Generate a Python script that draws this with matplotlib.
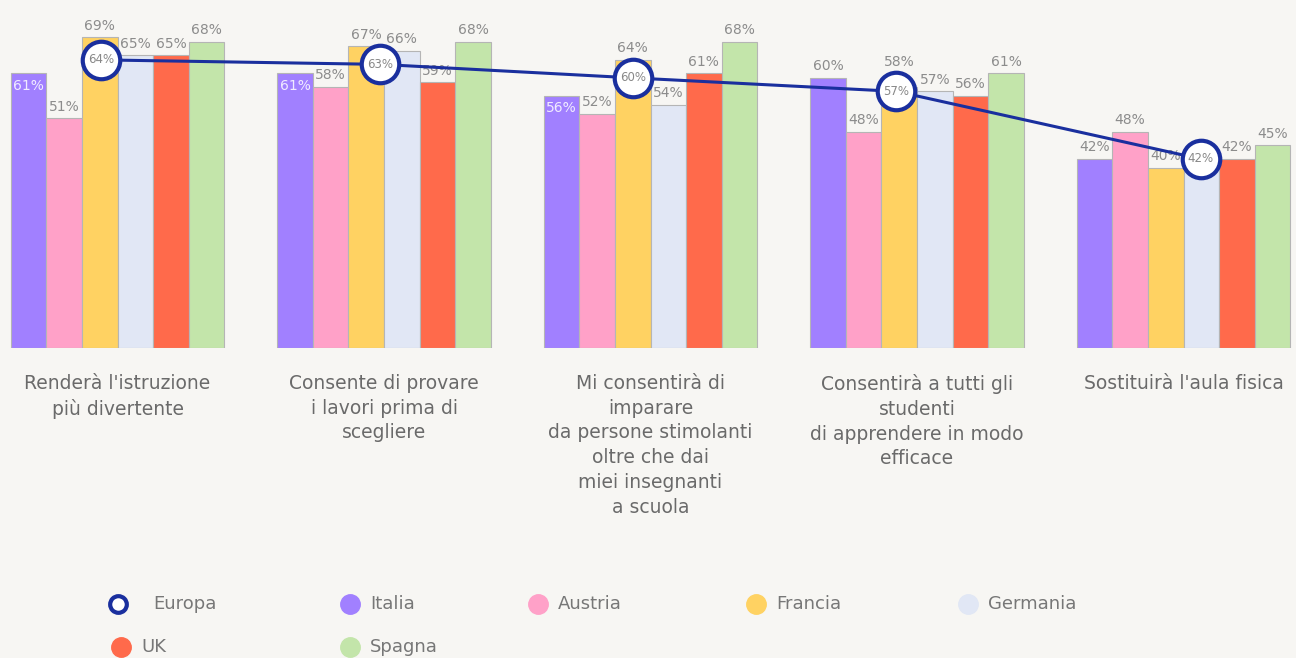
import matplotlib
matplotlib.use('agg')
import matplotlib.pyplot as plt
from matplotlib.lines import Line2D
import numpy as np

plt.rcParams['font.family'] = ['DejaVu Sans']

categories = ["Renderà l'istruzione\npiù divertente",
              "Consente di provare\ni lavori prima di\nscegliere",
              "Mi consentirà di\nimparare\nda persone stimolanti\noltre che dai\nmiei insegnanti\na scuola",
              "Consentirà a tutti gli\nstudenti\ndi apprendere in modo\nefficace",
              "Sostituirà l'aula fisica"]
countries = ['Italia', 'Austria', 'Francia', 'Germania', 'UK', 'Spagna']
italia = [61, 61, 56, 60, 42]
austria = [51, 58, 52, 48, 48]
francia = [69, 67, 64, 58, 40]
germania = [65, 66, 54, 57, 42]
uk = [65, 59, 61, 56, 42]
spagna = [68, 68, 68, 61, 45]
europa = [64, 63, 60, 57, 42]

series = [italia, austria, francia, germania, uk, spagna]
colors = ['#a180ff', '#ffa1c8', '#ffd262', '#e1e7f5', '#ff6a4b', '#c3e5aa']
navy = '#1a2f9e'
bg = '#f7f6f3'
txt = '#8c8c8c'

# horizontal nudge of each Europa circle, in bar widths
europa_shift = [-0.46, -0.1, -0.5, -0.58, 0.48]

fig = plt.figure(figsize=(12.96, 6.58), dpi=100, facecolor=bg)
ax = fig.add_axes([0, 1 - 348 / 658, 1, 348 / 658])
ax.set_facecolor(bg)

x = np.arange(len(categories))
w = 0.1335
ex = x + np.array(europa_shift) * w
for i, (vals, c) in enumerate(zip(series, colors)):
    xs = x + (i - 2.5) * w
    ax.bar(xs, vals, width=w, color=c, edgecolor='#b5b5b5', linewidth=0.8, zorder=2)
    for j, (xx, v) in enumerate(zip(xs, vals)):
        under_circle = abs(xx - ex[j]) < w * 0.6
        if under_circle and v == europa[j]:
            continue  # same value as the Europa circle sitting on top
        if i == 0 and j < 3:
            # first three Italia labels sit inside the bar
            ax.text(xx, v - 1.2, f'{v}%', ha='center', va='top', color='white',
                    fontsize=10, alpha=0.85, zorder=3)
        else:
            ly = v + 1.0
            if under_circle and abs(v - europa[j]) < 4:
                ly = europa[j] + 5.0  # lift above the circle
            ax.text(xx, ly, f'{v}%', ha='center', va='bottom', color=txt,
                    fontsize=10, zorder=3)

# Europa average line with labelled circles
ax.plot(ex, europa, color=navy, linewidth=2.2, zorder=4)
ax.plot(ex, europa, 'o', markersize=27, markerfacecolor='white',
        markeredgecolor=navy, markeredgewidth=3, zorder=5)
for xx, v in zip(ex, europa):
    ax.text(xx, v, f'{v}%', ha='center', va='center', color='#888888',
            fontsize=8.5, zorder=6)

for xx, lab in zip(x, categories):
    ax.text(xx, -0.075, lab, transform=ax.get_xaxis_transform(), ha='center',
            va='top', fontsize=13.5, color='#6a6a6a', linespacing=1.38)

ax.set_xlim(-0.441, 4.422)
ax.set_ylim(0, 77.3)
ax.axis('off')

# legend laid out by hand in two rows
legend_items = [('Europa', None, 118, 604), ('Italia', colors[0], 350, 604),
                ('Austria', colors[1], 538, 604), ('Francia', colors[2], 756, 604),
                ('Germania', colors[3], 968, 604), ('UK', colors[4], 121, 647),
                ('Spagna', colors[5], 350, 647)]
for name, c, px, py in legend_items:
    fx, fy = px / 1296, 1 - py / 658
    if c is None:
        fig.add_artist(Line2D([fx], [fy], marker='o', markersize=12,
                              markerfacecolor='white', markeredgecolor=navy,
                              markeredgewidth=3, transform=fig.transFigure))
        fig.text(fx + 35 / 1296, fy, name, ha='left', va='center', fontsize=13, color='#777777')
    else:
        fig.add_artist(Line2D([fx], [fy], marker='o', markersize=14,
                              markerfacecolor=c, markeredgecolor=c,
                              transform=fig.transFigure))
        fig.text(fx + 20 / 1296, fy, name, ha='left', va='center', fontsize=13, color='#777777')

fig.savefig('out.png', dpi=100, facecolor=bg)
